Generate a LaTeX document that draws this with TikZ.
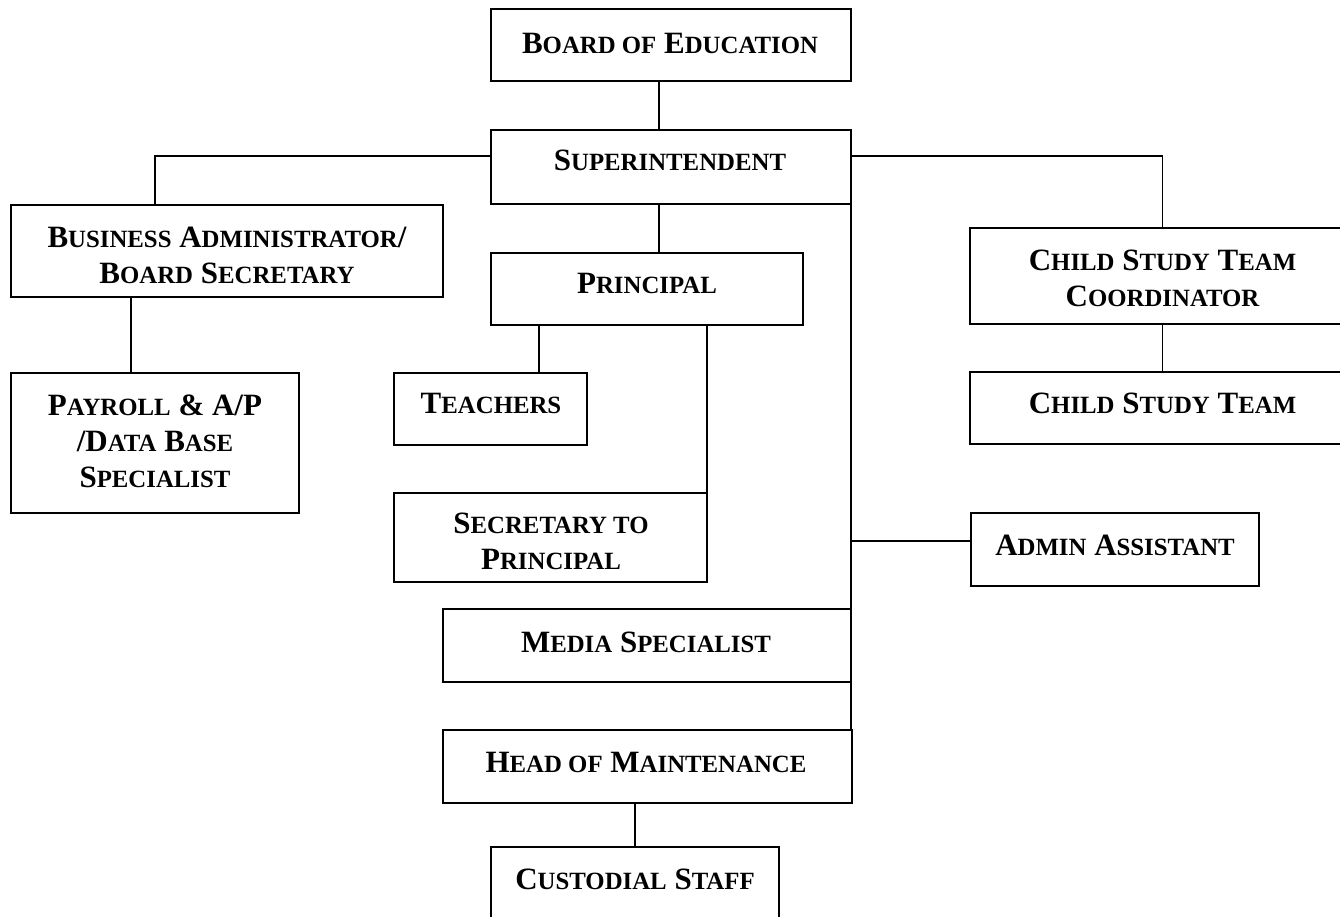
\documentclass[tikz,border=0pt]{standalone}
\usepackage{fontspec}
\setmainfont{Liberation Serif}
% reduced-size capitals for the small-caps look
\newcommand\smc[1]{{\fontsize{24.8pt}{36pt}\selectfont #1}}
\begin{document}
\begin{tikzpicture}[x=1pt,y=-1pt,
  box/.style={draw,line width=2pt,inner sep=0pt,outer sep=0pt},
  lbl/.style={align=center,inner sep=0pt,font=\fontsize{31pt}{36pt}\selectfont\bfseries},
  link/.style={line width=1.6pt}]
\useasboundingbox (0,0) rectangle (1340,917);
\clip (0,0) rectangle (1340,917);

% boxes
\node[box,minimum width=360pt,minimum height=72pt] (board) at (671,45) {};
\node[box,minimum width=360pt,minimum height=74pt] (super) at (671,167) {};
\node[box,minimum width=432pt,minimum height=92pt] (busadm) at (227,251) {};
\node[box,minimum width=288pt,minimum height=140pt] (payroll) at (155,443) {};
\node[box,minimum width=312pt,minimum height=72pt] (principal) at (647,289) {};
\node[box,minimum width=193pt,minimum height=72pt] (teachers) at (490.5,409) {};
\node[box,minimum width=313pt,minimum height=89pt] (secretary) at (550.5,537.5) {};
\node[box,minimum width=408pt,minimum height=73pt] (media) at (647,645.5) {};
\node[box,minimum width=409pt,minimum height=73pt] (hom) at (647.5,766.5) {};
\node[box,minimum width=288pt,minimum height=90pt] (custodial) at (635,892) {};
\node[box,minimum width=385pt,minimum height=96pt] (cstc) at (1162.5,276) {};
\node[box,minimum width=385pt,minimum height=72pt] (cst) at (1162.5,408) {};
\node[box,minimum width=288pt,minimum height=73pt] (admin) at (1115,549.5) {};

% titles
\node[lbl] (t-board) at (670,43) {B\smc{OARD OF} E\smc{DUCATION}};
\node[lbl] (t-super) at (670,160) {S\smc{UPERINTENDENT}};
\node[lbl] (t-busadm) at (227,255) {B\smc{USINESS} A\smc{DMINISTRATOR}/\\B\smc{OARD} S\smc{ECRETARY}};
\node[lbl] (t-payroll) at (155,441) {P\smc{AYROLL} \& A/P\\/D\smc{ATA} B\smc{ASE}\\S\smc{PECIALIST}};
\node[lbl] (t-principal) at (647,283) {P\smc{RINCIPAL}};
\node[lbl] (t-teachers) at (491,403) {T\smc{EACHERS}};
\node[lbl] (t-secretary) at (551,541.5) {S\smc{ECRETARY TO}\\P\smc{RINCIPAL}};
\node[lbl] (t-media) at (646,642) {M\smc{EDIA} S\smc{PECIALIST}};
\node[lbl] (t-hom) at (646,762) {H\smc{EAD OF} M\smc{AINTENANCE}};
\node[lbl] (t-custodial) at (635,879) {C\smc{USTODIAL} S\smc{TAFF}};
\node[lbl] (t-cstc) at (1162.5,278.5) {C\smc{HILD} S\smc{TUDY} T\smc{EAM}\\C\smc{OORDINATOR}};
\node[lbl] (t-cst) at (1162.5,403) {C\smc{HILD} S\smc{TUDY} T\smc{EAM}};
\node[lbl] (t-admin) at (1115,545) {A\smc{DMIN} A\smc{SSISTANT}};

% reporting lines
\draw[link] ([xshift=-12pt]board.south) -- ([xshift=-12pt]super.north);
\draw[link] ([yshift=11pt]super.west) -| ([xshift=-72pt]busadm.north);
\draw[link] ([yshift=11pt]super.east) -| (cstc.north);
\draw[link] ([xshift=-12pt]super.south) -- ([xshift=-12pt]super.south |- principal.north);
\draw[link] (super.south east) -- (super.south east |- hom.north);
\draw[link] ([yshift=8.5pt]admin.west) -- ([yshift=8.5pt]admin.west -| super.east);
\draw[link] ([xshift=-24pt]payroll.north) -- ([xshift=-24pt]payroll.north |- busadm.south);
\draw[link] ([xshift=48.5pt]teachers.north) -- ([xshift=48.5pt]teachers.north |- principal.south);
\draw[link] (secretary.north east) -- (secretary.north east |- principal.south);
\draw[link] (cstc.south) -- (cst.north);
\draw[link] (custodial.north) -- (custodial.north |- hom.south);
\end{tikzpicture}
\end{document}
